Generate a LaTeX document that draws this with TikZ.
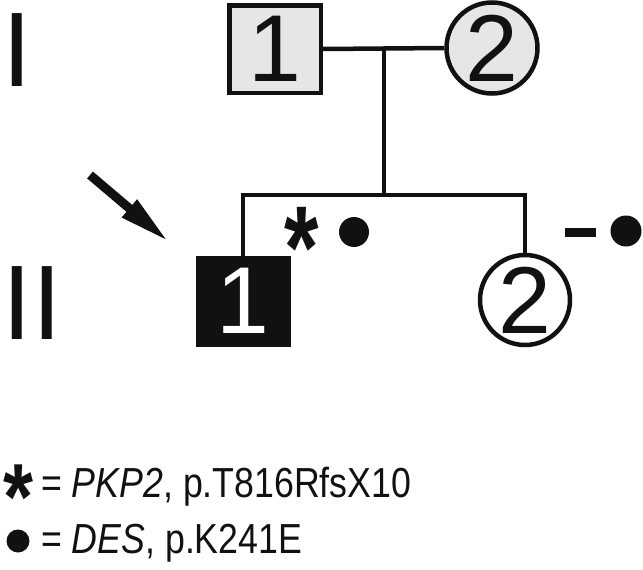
\documentclass[tikz,border=0pt]{standalone}
\usepackage{fontspec}
\setmainfont{Liberation Sans}
\newfontfamily\narrowfont[FakeStretch=0.85]{Liberation Sans}
\newfontfamily\starfont[FakeStretch=0.75]{Liberation Sans Bold}
\newfontfamily\legstarfont[FakeStretch=0.82]{Liberation Sans Bold}
\usetikzlibrary{arrows.meta,calc}
\definecolor{ink}{HTML}{111111}
\definecolor{lightg}{HTML}{E6E6E6}
\begin{document}
\begin{tikzpicture}[x=1pt,y=-1pt,
  ln/.style={line width=4.5pt, draw=ink},
  bignum/.style={font=\fontsize{95}{95}\selectfont},
  male/.style={rectangle, draw=ink, line width=4.5pt, fill=lightg, minimum width=91.5pt, minimum height=87.5pt, inner sep=0pt, bignum, text=ink},
  female/.style={circle, draw=ink, line width=4.5pt, fill=lightg, minimum size=90pt, inner sep=0pt, bignum, text=ink},
  roman/.style={font=\fontsize{106}{106}\selectfont, text=ink, inner sep=0pt, anchor=base west},
  dotmark/.style={circle, fill=ink, inner sep=0pt},
  legend/.style={font=\narrowfont\fontsize{42}{50}\selectfont, text=ink, inner sep=0pt, anchor=base west},
  starmark/.style={font=\starfont\fontsize{118}{118}\selectfont, text=ink, inner sep=0pt, anchor=base}
]
\useasboundingbox (0,0) rectangle (643,570);

% generation labels
\node[roman] (genI) at (2.5,86) {I};
\node[roman] (genII) at (2.5,339) {II};

% generation I
\node[male] (i1) at (275,49) {1};
\node[female, minimum size=91pt] (i2) at (492,48) {2};
\draw[ln] (i1.east) -- (i2.west);
\coordinate (mate) at (384,49);
\coordinate (sib) at (384,195);
\draw[ln] (mate) -- (sib);

% generation II
\node[male, fill=ink, draw=ink, text=white, minimum width=94pt, minimum height=90pt, line width=0pt] (ii1) at (243,301) {1};
\node[female, fill=white] (ii2) at (525,300) {2};
\draw[ln] (ii1.north) -- (ii1.north |- sib) -- (ii2.north |- sib) -- (ii2.north);

% proband arrow
\coordinate (arrA) at (90,175);
\coordinate (arrB) at (169,242);
\draw[line width=9pt, draw=ink, -{Triangle[length=52pt,width=21pt]}] (arrA) -- (arrB);

% genotype marks
\node[starmark] (star1) at (302,288) {*};
\node[dotmark, minimum size=30pt] (dot1) at (354,232) {};
\node[rectangle, fill=ink, inner sep=0pt, minimum width=31pt, minimum height=9pt] (dash2) at (580,232) {};
\node[dotmark, minimum size=31pt] (dot2) at (626,231) {};

% legend
\node[starmark, font=\legstarfont\fontsize{94}{94}\selectfont] (lstar) at (18.5,529) {*};
\node[legend] (leg1) at (41,497) {= \textit{PKP2}, p.T816RfsX10};
\node[dotmark, minimum size=23pt] (ldot) at (18,541) {};
\node[legend] (leg2) at (41,553) {= \textit{DES}, p.K241E};
\end{tikzpicture}
\end{document}
